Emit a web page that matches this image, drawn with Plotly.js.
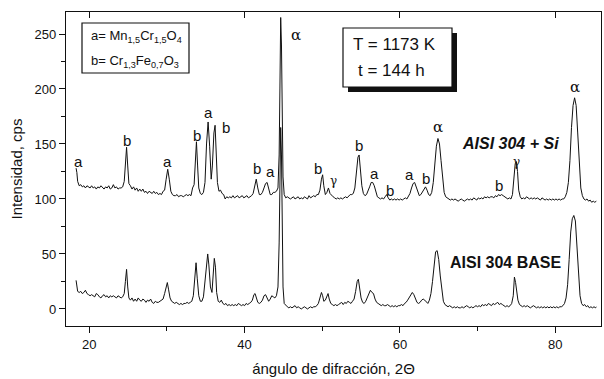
<!DOCTYPE html>
<html><head><meta charset="utf-8">
<script src="https://cdn.plot.ly/plotly-3.0.1.min.js"></script>
<style>html,body{margin:0;padding:0;background:#fff}#chart{width:604px;height:379px}</style>
</head><body><div id="chart"></div>
<script>
// AISI 304 + Si : [2theta, intensity]
const upperPts = [[18.3,128],[18.4,124],[18.5,116],[18.7,112],[18.9,113],[19.1,111],[19.3,112],[19.5,110],[19.7,112],[19.9,111],[20.1,110],[20.3,112],[20.5,110],[20.7,111],[20.9,109],[21.1,111],[21.3,110],[21.5,112],[21.7,110],[21.9,109],[22.1,111],[22.3,110],[22.5,112],[22.7,109],[22.9,110],[23.1,113],[23.3,110],[23.5,111],[23.7,109],[23.9,110],[24.1,110],[24.3,111],[24.5,116],[24.65,132],[24.8,147],[24.95,130],[25.1,114],[25.3,112],[25.5,109],[25.7,111],[25.9,108],[26.1,110],[26.3,107],[26.5,109],[26.7,107],[26.9,109],[27.1,106],[27.3,107],[27.5,105],[27.7,107],[27.9,106],[28.1,105],[28.3,107],[28.5,105],[28.7,106],[28.9,104],[29.1,105],[29.3,104],[29.5,107],[29.7,108],[29.9,118],[30.1,127],[30.3,118],[30.5,107],[30.7,104],[30.9,103],[31.1,103],[31.3,104],[31.5,102],[31.7,103],[31.9,103],[32.1,102],[32.3,103],[32.5,104],[32.7,103],[32.9,104],[33.1,103],[33.3,110],[33.5,113],[33.65,130],[33.8,152],[33.95,130],[34.1,110],[34.3,105],[34.5,104],[34.7,106],[34.9,115],[35.1,150],[35.3,170],[35.5,148],[35.7,118],[35.85,130],[36.05,160],[36.2,167],[36.35,145],[36.5,115],[36.7,107],[36.9,108],[37.1,105],[37.3,104],[37.5,100],[37.7,102],[37.9,101],[38.1,102],[38.3,101],[38.5,103],[38.7,101],[38.9,102],[39.1,103],[39.3,101],[39.5,102],[39.7,103],[39.9,101],[40.1,102],[40.3,103],[40.5,101],[40.7,102],[40.9,103],[41.1,105],[41.3,112],[41.5,118],[41.7,110],[41.9,104],[42.1,104],[42.3,106],[42.5,110],[42.7,114],[42.9,115],[43.1,110],[43.3,104],[43.5,104],[43.7,106],[43.9,106],[44.1,107],[44.3,110],[44.45,140],[44.55,200],[44.65,265],[44.75,240],[44.85,160],[44.95,120],[45.1,104],[45.3,101],[45.5,102],[45.7,101],[45.9,100],[46.1,101],[46.3,102],[46.5,100],[46.7,101],[46.9,102],[47.1,100],[47.3,101],[47.5,100],[47.7,102],[47.9,101],[48.1,100],[48.3,103],[48.5,101],[48.7,102],[48.9,103],[49.1,102],[49.3,104],[49.5,104],[49.7,108],[49.9,118],[50.05,122],[50.2,112],[50.4,104],[50.6,106],[50.8,110],[51.0,105],[51.2,103],[51.4,102],[51.6,101],[51.8,100],[52.0,101],[52.2,100],[52.4,101],[52.6,100],[52.8,101],[53.0,102],[53.2,101],[53.4,103],[53.6,104],[53.8,104],[54.0,105],[54.2,110],[54.4,122],[54.6,138],[54.75,140],[54.9,128],[55.1,112],[55.3,105],[55.5,103],[55.7,104],[55.9,107],[56.1,111],[56.3,115],[56.5,115],[56.7,112],[56.9,106],[57.1,102],[57.3,101],[57.5,100],[57.7,101],[57.9,100],[58.1,102],[58.3,104],[58.5,101],[58.7,99],[58.9,100],[59.1,99],[59.3,100],[59.5,99],[59.7,100],[59.9,99],[60.1,100],[60.3,99],[60.5,100],[60.7,101],[60.9,100],[61.1,102],[61.3,105],[61.5,110],[61.7,114],[61.9,115],[62.1,111],[62.3,105],[62.5,103],[62.7,104],[62.9,106],[63.1,109],[63.3,111],[63.5,108],[63.7,104],[63.9,103],[64.1,106],[64.3,115],[64.5,130],[64.7,148],[64.9,155],[65.1,150],[65.3,135],[65.5,118],[65.7,106],[65.9,102],[66.1,101],[66.3,100],[66.5,99],[66.7,100],[66.9,99],[67.1,100],[67.3,99],[67.5,98],[67.7,99],[67.9,100],[68.1,99],[68.3,98],[68.5,99],[68.7,100],[68.9,99],[69.1,100],[69.3,99],[69.5,101],[69.7,100],[69.9,99],[70.1,101],[70.3,100],[70.5,101],[70.7,100],[70.9,102],[71.1,101],[71.3,102],[71.5,101],[71.7,102],[71.9,102],[72.1,101],[72.3,103],[72.5,102],[72.7,104],[72.9,103],[73.1,104],[73.3,103],[73.5,102],[73.7,101],[73.9,100],[74.1,101],[74.3,100],[74.5,104],[74.7,118],[74.85,132],[75.0,134],[75.15,125],[75.3,108],[75.5,102],[75.7,100],[75.9,101],[76.1,100],[76.3,102],[76.5,101],[76.7,100],[76.9,101],[77.1,100],[77.3,101],[77.5,100],[77.7,101],[77.9,100],[78.1,99],[78.3,101],[78.5,100],[78.7,99],[78.9,100],[79.1,99],[79.3,100],[79.5,99],[79.7,100],[79.9,99],[80.1,100],[80.3,99],[80.5,100],[80.7,99],[80.9,100],[81.1,100],[81.3,102],[81.5,106],[81.7,115],[81.9,135],[82.1,165],[82.3,185],[82.5,192],[82.7,185],[82.9,160],[83.1,130],[83.3,110],[83.5,103],[83.7,100],[83.9,99],[84.1,100],[84.3,98],[84.5,99],[84.7,97],[84.9,98],[85.1,97],[85.3,98]];

// AISI 304 BASE : [2theta, intensity]
const basePts = [[18.3,26],[18.4,18],[18.5,16],[18.7,15],[18.9,16],[19.1,14],[19.3,15],[19.5,17],[19.7,14],[19.9,13],[20.1,12],[20.3,13],[20.5,12],[20.7,11],[20.9,14],[21.1,13],[21.3,11],[21.5,10],[21.7,12],[21.9,13],[22.1,11],[22.3,12],[22.5,10],[22.7,12],[22.9,11],[23.1,12],[23.3,11],[23.5,10],[23.7,12],[23.9,11],[24.1,10],[24.3,11],[24.5,14],[24.65,25],[24.8,36],[24.95,20],[25.1,10],[25.3,8],[25.5,10],[25.7,7],[25.9,9],[26.1,7],[26.3,10],[26.5,8],[26.7,7],[26.9,9],[27.1,8],[27.3,6],[27.5,8],[27.7,7],[27.9,9],[28.1,6],[28.3,5],[28.5,7],[28.7,6],[28.9,6],[29.1,7],[29.3,8],[29.5,9],[29.7,14],[29.9,21],[30.05,24],[30.2,18],[30.4,10],[30.6,7],[30.8,6],[31.0,5],[31.2,6],[31.4,5],[31.6,4],[31.8,5],[32.0,4],[32.2,5],[32.4,5],[32.6,6],[32.8,5],[33.0,6],[33.2,7],[33.4,12],[33.6,30],[33.75,42],[33.9,28],[34.1,12],[34.3,7],[34.5,7],[34.7,11],[34.9,25],[35.1,45],[35.25,50],[35.4,40],[35.6,20],[35.8,15],[35.95,35],[36.1,46],[36.25,38],[36.4,15],[36.6,7],[36.8,6],[37.0,8],[37.2,5],[37.4,4],[37.6,5],[37.8,3],[38.0,4],[38.2,3],[38.4,4],[38.6,3],[38.8,4],[39.0,3],[39.2,5],[39.4,4],[39.6,3],[39.8,4],[40.0,3],[40.2,5],[40.4,4],[40.6,5],[40.8,6],[41.0,8],[41.2,13],[41.35,14],[41.5,10],[41.7,6],[41.9,5],[42.1,6],[42.3,8],[42.5,12],[42.7,13],[42.9,9],[43.1,7],[43.3,9],[43.5,12],[43.7,11],[43.9,10],[44.1,12],[44.3,20],[44.45,60],[44.55,120],[44.65,165],[44.75,140],[44.85,70],[44.95,20],[45.1,5],[45.3,3],[45.5,2],[45.7,1],[45.9,2],[46.1,1],[46.3,2],[46.5,3],[46.7,1],[46.9,2],[47.1,1],[47.3,0],[47.5,1],[47.7,2],[47.9,1],[48.1,0],[48.3,1],[48.5,2],[48.7,1],[48.9,2],[49.1,2],[49.3,3],[49.5,5],[49.7,11],[49.9,15],[50.05,12],[50.2,7],[50.4,8],[50.6,12],[50.75,14],[50.9,9],[51.1,5],[51.3,4],[51.5,3],[51.7,4],[51.9,3],[52.1,4],[52.3,5],[52.5,6],[52.7,4],[52.9,6],[53.1,5],[53.3,7],[53.5,6],[53.7,5],[53.9,7],[54.1,9],[54.3,16],[54.5,25],[54.65,27],[54.8,20],[55.0,10],[55.2,6],[55.4,5],[55.6,7],[55.8,11],[56.0,15],[56.2,17],[56.4,15],[56.6,14],[56.8,9],[57.0,6],[57.2,5],[57.4,4],[57.6,3],[57.8,4],[58.0,3],[58.2,3],[58.4,4],[58.6,3],[58.8,2],[59.0,3],[59.2,2],[59.4,3],[59.6,2],[59.8,3],[60.0,3],[60.2,4],[60.4,3],[60.6,5],[60.8,6],[61.0,8],[61.2,10],[61.4,12],[61.6,15],[61.8,13],[62.0,9],[62.2,6],[62.4,5],[62.6,6],[62.8,8],[63.0,9],[63.2,8],[63.4,6],[63.6,5],[63.8,8],[64.0,14],[64.2,25],[64.4,40],[64.6,52],[64.8,53],[65.0,45],[65.2,30],[65.4,15],[65.6,7],[65.8,4],[66.0,3],[66.2,2],[66.4,3],[66.6,2],[66.8,1],[67.0,2],[67.2,1],[67.4,2],[67.6,1],[67.8,1],[68.0,2],[68.2,1],[68.4,2],[68.6,3],[68.8,2],[69.0,1],[69.2,2],[69.4,1],[69.6,2],[69.8,3],[70.0,2],[70.2,3],[70.4,2],[70.6,4],[70.8,3],[71.0,4],[71.2,3],[71.4,5],[71.6,4],[71.8,3],[72.0,5],[72.2,4],[72.4,5],[72.6,6],[72.8,4],[73.0,5],[73.2,4],[73.4,3],[73.6,2],[73.8,3],[74.0,2],[74.2,3],[74.4,5],[74.6,12],[74.75,29],[74.9,24],[75.05,15],[75.2,8],[75.4,4],[75.6,3],[75.8,2],[76.0,3],[76.2,2],[76.4,3],[76.6,2],[76.8,1],[77.0,2],[77.2,3],[77.4,2],[77.6,1],[77.8,2],[78.0,1],[78.2,2],[78.4,1],[78.6,2],[78.8,1],[79.0,2],[79.2,1],[79.4,2],[79.6,1],[79.8,2],[80.0,1],[80.2,2],[80.4,1],[80.6,2],[80.8,2],[81.0,3],[81.2,5],[81.4,10],[81.6,22],[81.8,45],[82.0,70],[82.2,82],[82.4,85],[82.6,80],[82.8,60],[83.0,32],[83.2,12],[83.4,5],[83.6,3],[83.8,4],[84.0,2],[84.2,3],[84.4,1],[84.6,2],[84.8,1],[85.0,2],[85.2,1],[85.3,2]];

// Peak labels: [text, 2theta, intensity]
const peakLabels = [["a",18.6,134],["b",24.8,153],["a",30.1,134],["b",33.9,158],["a",35.4,179],["b",37.6,165],["b",41.6,128],["a",43.3,125],["α",46.6,249],["b",49.4,128],["γ",51.4,116],["b",54.7,149],["a",56.7,123],["b",58.7,108],["a",61.3,122],["b",63.3,119],["α",64.9,165],["b",72.8,112],["γ",75.0,134],["α",82.5,202]];

const xTicks = [20,40,60,80];
const yTicks = [0,50,100,150,200,250];

const F = "Liberation Sans, Arial, sans-serif";
const traces = [
  {x: upperPts.map(p=>p[0]), y: upperPts.map(p=>p[1]), xaxis:'x2', yaxis:'y', type:'scatter', mode:'lines', line:{color:'#111', width:1}, name:'AISI 304 + Si'},
  {x: basePts.map(p=>p[0]), y: basePts.map(p=>p[1]), type:'scatter', mode:'lines', line:{color:'#111', width:1}, name:'AISI 304 BASE'}
];

const PX = (px)=> (px-66)/535, PY = (py)=> (326-py)/314;

const annotations = peakLabels.map(l=>({
  text:l[0], x:l[1], y:l[2], xref:'x', yref:'y', showarrow:false,
  font:{family: l[0]==='a'||l[0]==='b' ? F : "DejaVu Serif, serif", size: l[0]==='a'||l[0]==='b'?15:(l[0]==='γ'?12:15), color:'#111'},
  yanchor:'middle', xanchor:'center'
}));
annotations.push(
  {text:'a= Mn<sub>1,5</sub>Cr<sub>1,5</sub>O<sub>4</sub>', xref:'paper', yref:'paper', x:PX(89), y:PY(37), xanchor:'left', yanchor:'middle', showarrow:false, font:{family:F,size:13,color:'#111'}},
  {text:'b= Cr<sub>1,3</sub>Fe<sub>0,7</sub>O<sub>3</sub>', xref:'paper', yref:'paper', x:PX(89), y:PY(62), xanchor:'left', yanchor:'middle', showarrow:false, font:{family:F,size:13,color:'#111'}},
  {text:'T = 1173 K', xref:'paper', yref:'paper', x:PX(351), y:PY(45), xanchor:'left', yanchor:'middle', showarrow:false, font:{family:F,size:17,color:'#111'}},
  {text:'t = 144 h', xref:'paper', yref:'paper', x:PX(356), y:PY(71), xanchor:'left', yanchor:'middle', showarrow:false, font:{family:F,size:17,color:'#111'}},
  {text:'<b><i>AISI 304 + Si</i></b>', xref:'paper', yref:'paper', x:PX(510), y:PY(143), xanchor:'center', yanchor:'middle', showarrow:false, font:{family:F,size:16,color:'#111'}},
  {text:'<b>AISI 304 BASE</b>', xref:'paper', yref:'paper', x:PX(505), y:PY(262), xanchor:'center', yanchor:'middle', showarrow:false, font:{family:F,size:16,color:'#111'}}
);

const shapes = [
  {type:'rect', xref:'paper', yref:'paper', x0:PX(82), x1:PX(189), y0:PY(73), y1:PY(23), line:{color:'#111',width:1.2}, fillcolor:'rgba(0,0,0,0)'},
  {type:'rect', xref:'paper', yref:'paper', x0:PX(348), x1:PX(457), y0:PY(92), y1:PY(33), line:{width:0}, fillcolor:'#111'},
  {type:'rect', xref:'paper', yref:'paper', x0:PX(343), x1:PX(452), y0:PY(87), y1:PY(28), line:{color:'#111',width:1.2}, fillcolor:'#fff'}
];

const layout = {
  width:604, height:379,
  margin:{l:66, r:3, t:12, b:53},
  paper_bgcolor:'#fff', plot_bgcolor:'#fff',
  showlegend:false,
  font:{family:F, color:'#111'},
  xaxis:{range:[17.0,85.9], tickvals:xTicks, ticktext:xTicks.map(String), ticks:'outside', ticklen:6, tickwidth:1, tickcolor:'#111',
    minor:{dtick:10, tick0:0, ticks:'outside', ticklen:4, tickcolor:'#111'},
    showline:true, linecolor:'#111', linewidth:1.2, mirror:true, showgrid:false, zeroline:false,
    tickfont:{family:F,size:13,color:'#111'},
    title:{text:'ángulo de difracción, 2Θ', font:{family:F,size:15,color:'#111'}, standoff:12}},
  xaxis2:{range:[17.0,85.9], matches:'x', overlaying:'x', side:'top', tickvals:xTicks, ticks:'inside', ticklen:6, tickwidth:1, tickcolor:'#111', showticklabels:false, showgrid:false, zeroline:false, showline:false},
  yaxis:{range:[-15.5,270], tickvals:yTicks, ticktext:yTicks.map(String), ticks:'outside', ticklen:6, tickwidth:1, tickcolor:'#111',
    minor:{dtick:25, tick0:0, ticks:'outside', ticklen:4, tickcolor:'#111'},
    showline:true, linecolor:'#111', linewidth:1.2, mirror:true, showgrid:false, zeroline:false,
    tickfont:{family:F,size:13,color:'#111'},
    title:{text:'Intensidad, cps', font:{family:F,size:15,color:'#111'}, standoff:8}},
  annotations, shapes
};
Plotly.newPlot('chart', traces, layout, {staticPlot:true, displayModeBar:false});
</script></body></html>
